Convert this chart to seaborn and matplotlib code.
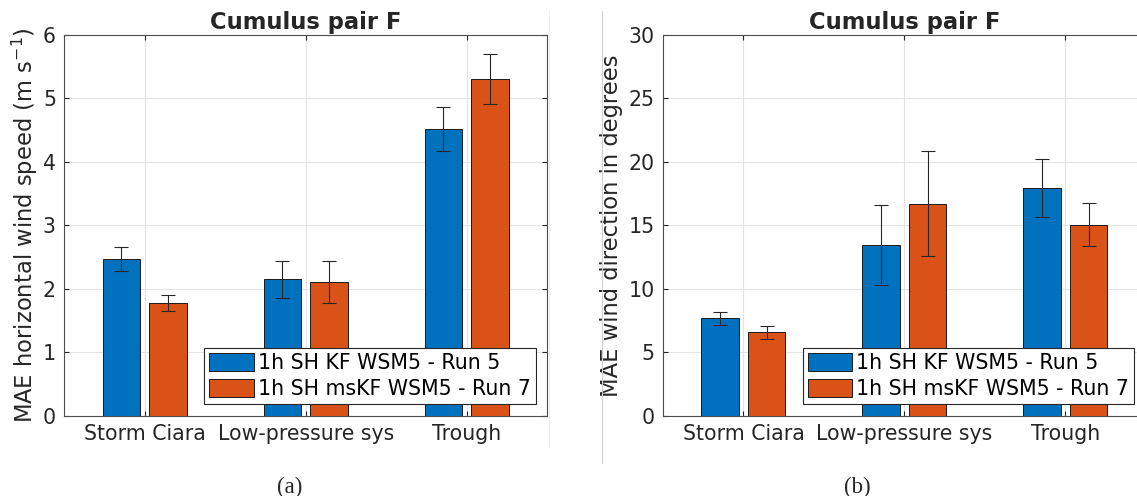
import numpy as np
import pandas as pd
import matplotlib
matplotlib.use('Agg')
import matplotlib.pyplot as plt
from matplotlib.lines import Line2D
import seaborn as sns

categories = ['Storm Ciara', 'Low-pressure sys', 'Trough']
runs = ['1h SH KF WSM5 - Run 5', '1h SH msKF WSM5 - Run 7']

speed_run5 = [2.47, 2.15, 4.52]
speed_run5_err = [0.19, 0.29, 0.35]
speed_run7 = [1.78, 2.11, 5.31]
speed_run7_err = [0.125, 0.335, 0.39]

dir_run5 = [7.68, 13.45, 17.94]
dir_run5_err = [0.51, 3.17, 2.27]
dir_run7 = [6.58, 16.70, 15.05]
dir_run7_err = [0.51, 4.14, 1.69]

colors = ['#0072BD', '#D95319']

sns.set_theme(style='white')
plt.rcParams['font.family'] = ['DejaVu Sans']
plt.rcParams['mathtext.default'] = 'regular'

W, H = 1137, 496
fig = plt.figure(figsize=(W / 100, H / 100), dpi=100)


def make_df(v5, v7):
    return pd.DataFrame({
        'case': categories * 2,
        'run': [runs[0]] * 3 + [runs[1]] * 3,
        'value': list(v5) + list(v7),
    })


def draw_panel(rect, v5, e5, v7, e7, ymax, ystep, ylabel, label_x):
    ax = fig.add_axes(rect)
    df = make_df(v5, v7)
    sns.barplot(data=df, x='case', y='value', hue='run', order=categories,
                hue_order=runs, palette=colors, width=0.58, gap=0.2,
                errorbar=None, edgecolor='#1a1a1a', linewidth=0.7,
                saturation=1, ax=ax, zorder=3)
    # error bars from the given spread, placed on seaborn's bars
    for cont, errs in zip(ax.containers, [e5, e7]):
        xs = [b.get_x() + b.get_width() / 2 for b in cont]
        ys = [b.get_height() for b in cont]
        ax.errorbar(xs, ys, yerr=errs, fmt='none', ecolor='#262626',
                    elinewidth=0.8, capsize=5, capthick=0.8, zorder=4)
    ax.set_xlim(-0.5, 2.5)
    ax.set_ylim(0, ymax)
    ax.set_yticks(np.arange(0, ymax + 0.01, ystep))
    ax.set_xticks(range(3))
    ax.set_xticklabels(categories)
    ax.set_xlabel('')
    ax.set_ylabel(ylabel, fontsize=16.3, color='#262626')
    ax.yaxis.set_label_coords(label_x, 0.5)
    ax.yaxis.label.set_verticalalignment('center')
    ax.set_axisbelow(True)
    ax.grid(True, color='#e3e3e3', linewidth=0.8)
    ax.tick_params(direction='in', length=3.6, width=0.8, colors='#262626',
                   labelsize=14.8, pad=6, top=True, right=True,
                   bottom=True, left=True)
    for s in ax.spines.values():
        s.set_visible(True)
        s.set_color('#4d4d4d')
        s.set_linewidth(0.8)
    ax.set_title('Cumulus pair F', fontsize=16.3, fontweight='bold', pad=4.6)
    leg = ax.legend(loc='lower right', fontsize=14.8, frameon=True,
                    fancybox=False, edgecolor='#262626', framealpha=1,
                    handlelength=2.15, handleheight=0.95, handletextpad=0.2,
                    labelspacing=0.3, borderpad=0.25, borderaxespad=0.55)
    leg.get_frame().set_linewidth(0.8)
    for t in leg.get_texts():
        t.set_color('#000000')
    return ax


ax_w = 482.7 / W
ax_h = 380.7 / H
ax_y = (H - 415.7) / H

draw_panel([64.3 / W, ax_y, ax_w, ax_h], speed_run5, speed_run5_err,
           speed_run7, speed_run7_err, 6, 1,
           'MAE horizontal wind speed (m s$^{-1}$)', (25 - 64.3) / 482.7)
draw_panel([663 / W, ax_y, ax_w, ax_h], dir_run5, dir_run5_err,
           dir_run7, dir_run7_err, 30, 5,
           'MAE wind direction in degrees', (611.6 - 663) / 482.7)

# thin separators between the subfigures
fig.add_artist(Line2D([602 / W, 602 / W], [1 - 11 / H, 1 - 463 / H],
                      color='#d0d0d0', linewidth=0.8))
fig.add_artist(Line2D([549 / W, 549 / W], [1 - 10 / H, 1 - 447 / H],
                      color='#efefef', linewidth=0.8))

fig.text(289.5 / W, 1 - 487 / H, '(a)', ha='center', va='center',
         fontsize=16.5, family='Liberation Serif')
fig.text(857.5 / W, 1 - 487 / H, '(b)', ha='center', va='center',
         fontsize=16.5, family='Liberation Serif')

fig.savefig('out.png', dpi=100)
